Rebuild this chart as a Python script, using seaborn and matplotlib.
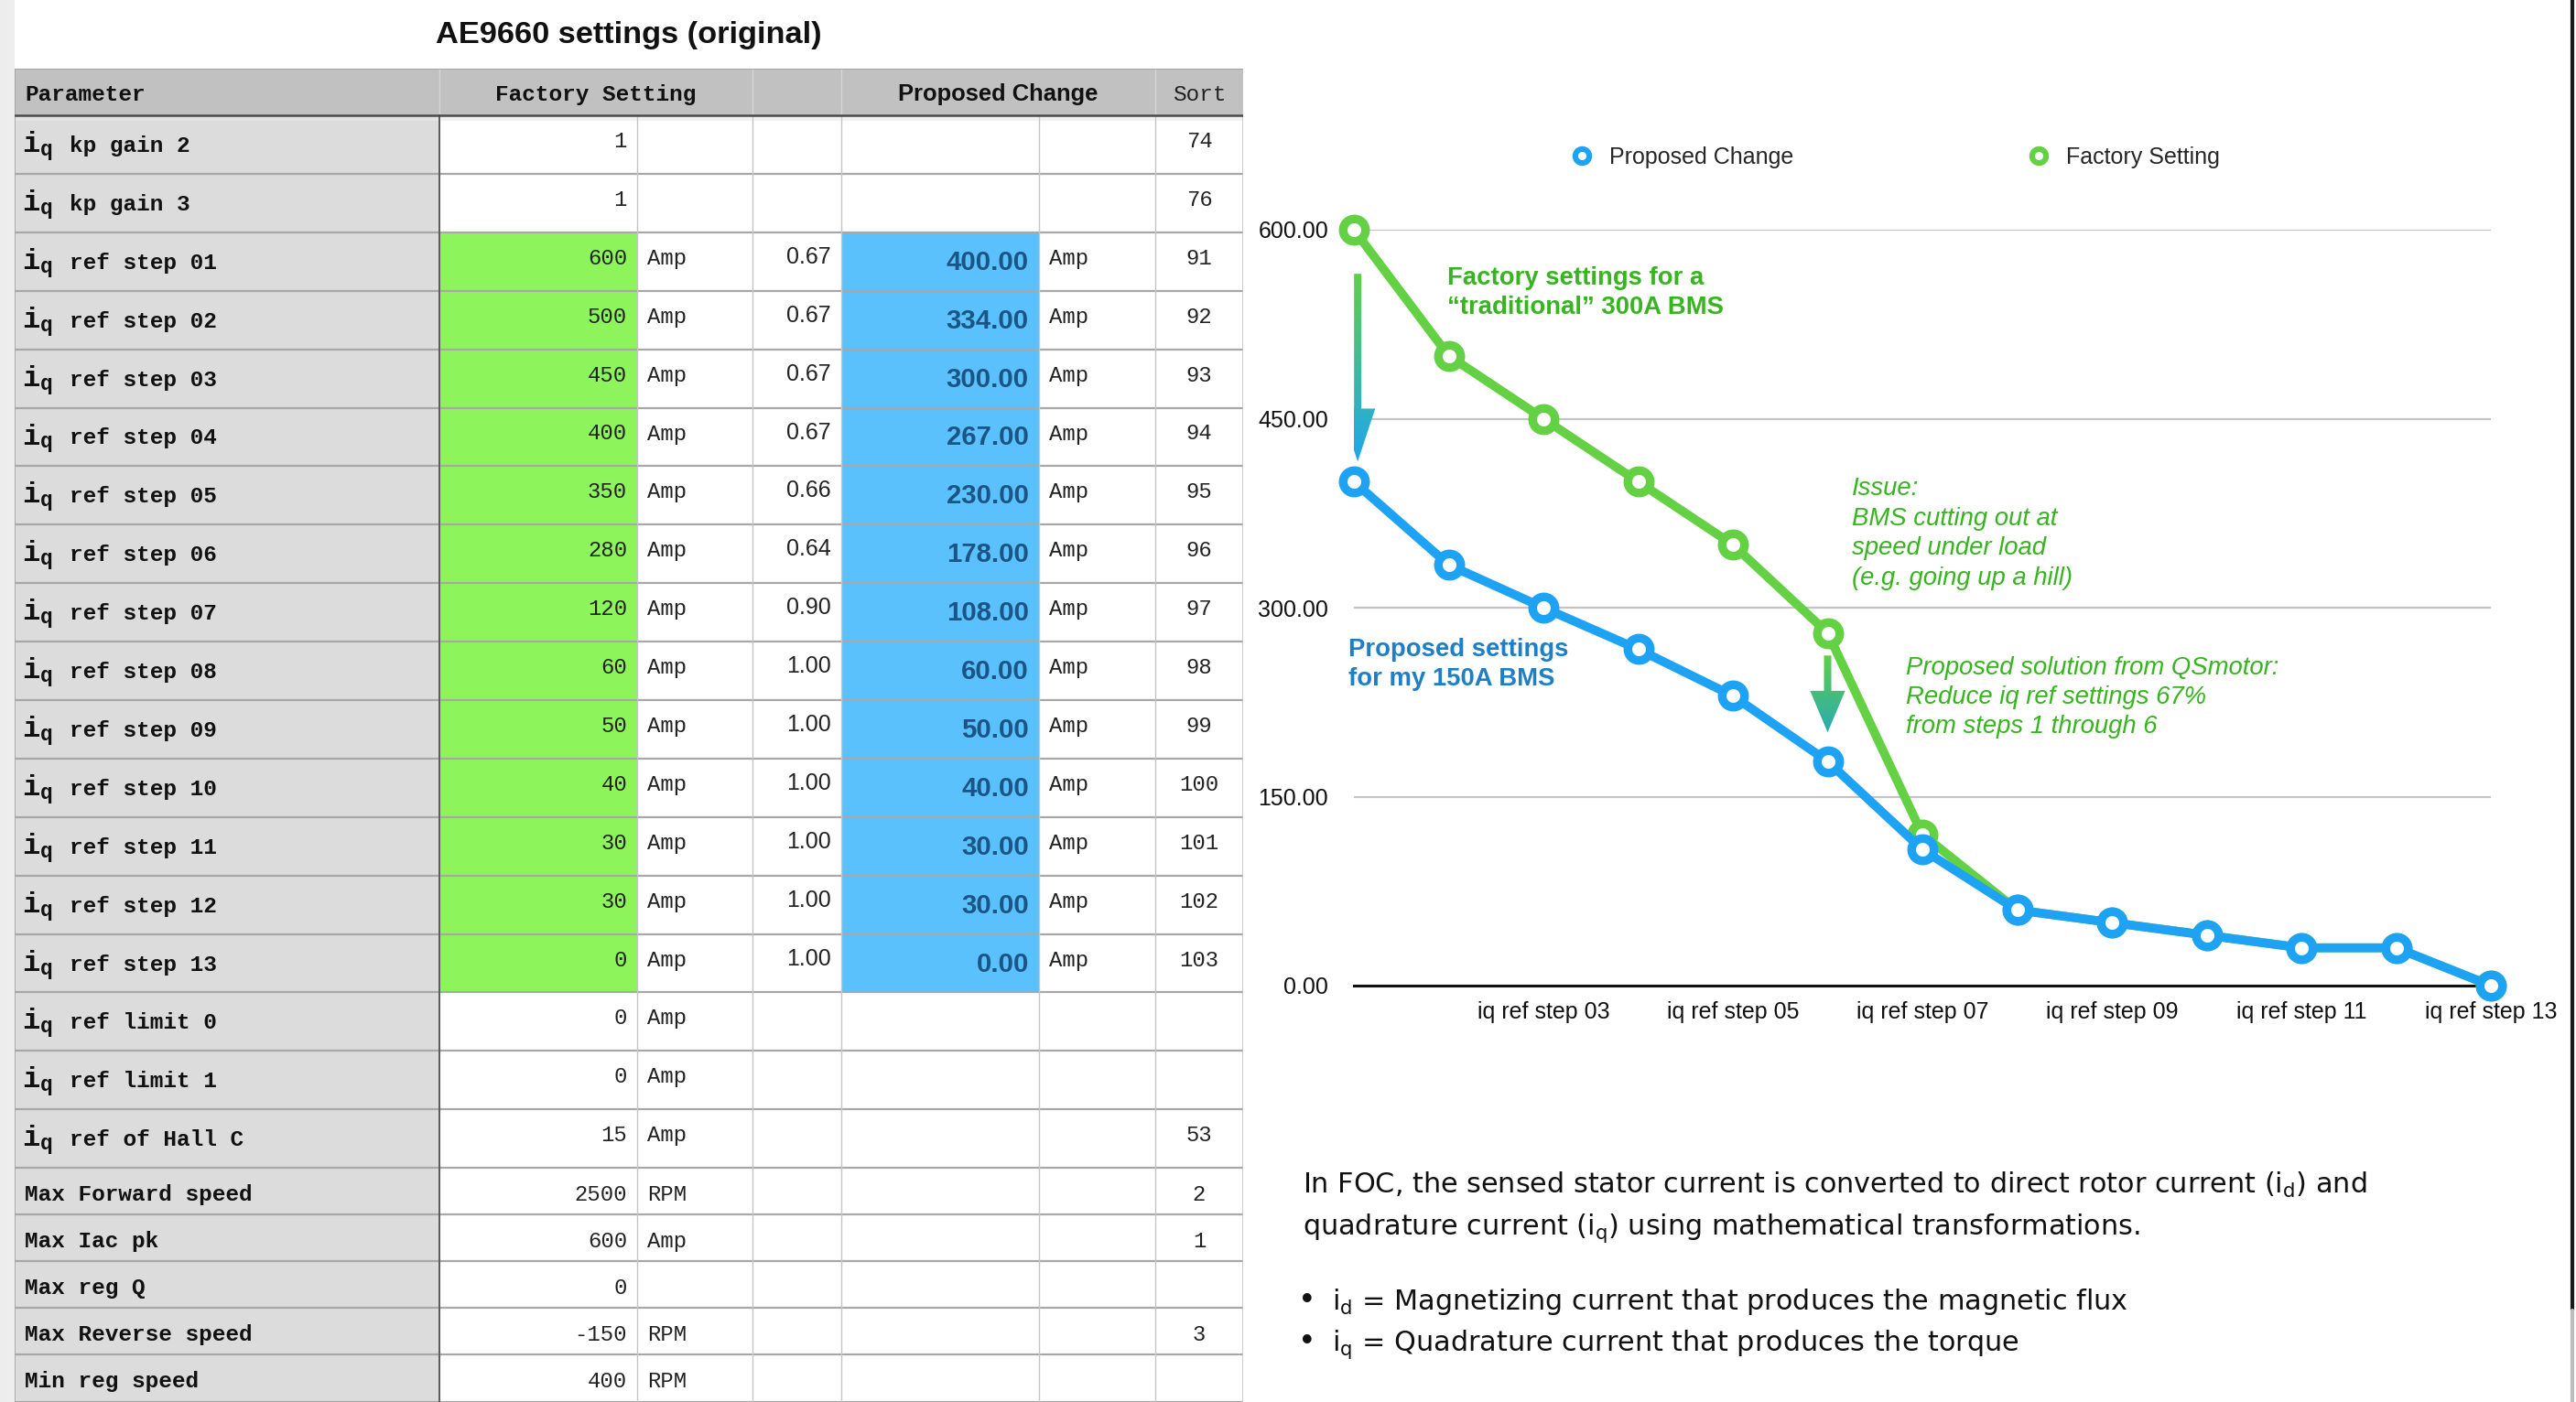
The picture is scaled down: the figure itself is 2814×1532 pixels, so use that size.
import numpy as np
import pandas as pd
import matplotlib
matplotlib.use("Agg")
import matplotlib.pyplot as plt
import matplotlib.colors as mcolors
import seaborn as sns
from matplotlib.patches import Rectangle, FancyArrow
from matplotlib.lines import Line2D
from matplotlib.ticker import StrMethodFormatter

# ------------------------------------------------------------------ data
title = "AE9660 settings (original)"

param_names = [
    "kp gain 2", "kp gain 3",
    "ref step 01", "ref step 02", "ref step 03", "ref step 04", "ref step 05",
    "ref step 06", "ref step 07", "ref step 08", "ref step 09", "ref step 10",
    "ref step 11", "ref step 12", "ref step 13",
    "ref limit 0", "ref limit 1", "ref of Hall C",
    "Max Forward speed", "Max Iac pk", "Max reg Q", "Max Reverse speed",
    "Min reg speed",
]
param_is_iq = [True] * 18 + [False] * 5
factory_values = [1, 1, 600, 500, 450, 400, 350, 280, 120, 60, 50, 40, 30, 30, 0,
                  0, 0, 15, 2500, 600, 0, -150, 400]
factory_units = ["", ""] + ["Amp"] * 13 + ["Amp", "Amp", "Amp", "RPM", "Amp", "",
                                           "RPM", "RPM"]
ratios = [None, None, 0.67, 0.67, 0.67, 0.67, 0.66, 0.64, 0.90, 1.00, 1.00, 1.00,
          1.00, 1.00, 1.00] + [None] * 8
proposed_values = [None, None, 400, 334, 300, 267, 230, 178, 108, 60, 50, 40, 30,
                   30, 0] + [None] * 8
sort_keys = [74, 76, 91, 92, 93, 94, 95, 96, 97, 98, 99, 100, 101, 102, 103,
             None, None, 53, 2, 1, None, 3, None]

header_labels = ["Parameter", "Factory Setting", "Proposed Change", "Sort"]

step_labels = ["iq ref step 01", "iq ref step 02", "iq ref step 03",
               "iq ref step 04", "iq ref step 05", "iq ref step 06",
               "iq ref step 07", "iq ref step 08", "iq ref step 09",
               "iq ref step 10", "iq ref step 11", "iq ref step 12",
               "iq ref step 13"]
factory_setting = [600, 500, 450, 400, 350, 280, 120, 60, 50, 40, 30, 30, 0]
proposed_change = [400, 334, 300, 267, 230, 178, 108, 60, 50, 40, 30, 30, 0]
series_names = ["Proposed Change", "Factory Setting"]
y_ticks = [0, 150, 300, 450, 600]

# ------------------------------------------------------------------ style
W, H, DPI = 2814, 1532, 200
sns.set_theme(style="white")
plt.rcParams["font.family"] = ["Liberation Sans", "DejaVu Sans"]

GREEN = "#63d143"
BLUE = "#1ea2f3"
GREEN_TXT = "#37b420"
BLUE_TXT = "#1f7fc6"
MONO = "Liberation Mono"

fig = plt.figure(figsize=(W / DPI, H / DPI), dpi=DPI)
fig.patch.set_facecolor("white")


def fx(px):
    return px / W


def fy(py):
    return 1 - py / H


# left grey strip and right edge line
fig.add_artist(Rectangle((0, 0), fx(14), 1, transform=fig.transFigure,
                         color="#ededed", zorder=0))
fig.add_artist(Line2D([fx(2810), fx(2810)], [fy(0), fy(1432)],
                      transform=fig.transFigure, color="#1a1a1a", lw=1.5))
fig.add_artist(Line2D([fx(2810), fx(2810)], [fy(1432), fy(1532)],
                      transform=fig.transFigure, color="#bdbdbd", lw=1.5))

# ------------------------------------------------------------------ title
fig.text(fx(687), fy(47), title, ha="center", va="baseline", fontsize=12.4,
         fontweight="bold", color="#111111")

# ------------------------------------------------------------------ table
tab = fig.add_axes([fx(16), 0, fx(1358) - fx(16), fy(75)])
TW, TH = 1342, 1457
tab.set_xlim(0, TW)
tab.set_ylim(TH, 0)
tab.axis("off")

col_edges = [0, 464, 680, 806, 903, 1119, 1246, 1342]
header_h = 51
row_heights = [63.9 if iq else 51.0 for iq in param_is_iq]
row_tops = header_h + np.concatenate([[0], np.cumsum(row_heights)[:-1]])

# backgrounds
tab.add_patch(Rectangle((0, 0), TW, header_h, color="#c0c1c0", lw=0))
tab.add_patch(Rectangle((0, header_h), col_edges[1], TH - header_h,
                        color="#dcdcdc", lw=0))
for r, top in enumerate(row_tops):
    h = row_heights[r]
    if ratios[r] is not None:
        tab.add_patch(Rectangle((col_edges[1], top), col_edges[2] - col_edges[1],
                                h, color="#8df55b", lw=0))
        tab.add_patch(Rectangle((col_edges[4], top), col_edges[5] - col_edges[4],
                                h, color="#5bc1fc", lw=0))

# grid lines
for r, top in enumerate(row_tops[1:]):
    tab.plot([0, TW], [top, top], color="#a8a8a8", lw=0.8)
tab.plot([0, TW], [TH - 0.5, TH - 0.5], color="#a8a8a8", lw=0.8)
for xe in [col_edges[2], col_edges[3], col_edges[4], col_edges[5], col_edges[6]]:
    tab.plot([xe, xe], [header_h, TH], color="#c6c6c6", lw=0.5)
for xe in [col_edges[3], col_edges[4], col_edges[6]]:
    tab.plot([xe, xe], [0, header_h], color="#d6d6d6", lw=0.5)
tab.plot([col_edges[1], col_edges[1]], [0, header_h], color="#d6d6d6", lw=0.5)
tab.plot([col_edges[1], col_edges[1]], [header_h, TH], color="#5a5a5a", lw=0.7)
tab.plot([TW, TW], [0, TH], color="#c6c6c6", lw=0.6)
tab.plot([0, 0], [0, TH], color="#a0a0a0", lw=0.6)
tab.plot([0, TW], [0, 0], color="#a0a0a0", lw=0.6)
tab.add_patch(Rectangle((0, header_h), TW, 6, color="#e9e9e9", lw=0, zorder=1.5,
                        alpha=0.6))
tab.plot([0, TW], [header_h, header_h], color="#4a4a4a", lw=0.9, zorder=3)

# header texts
hb = 35
tab.text(11, hb, header_labels[0], family=MONO, fontweight="bold", fontsize=8.8,
         va="baseline", ha="left", color="#111111")
tab.text((col_edges[1] + col_edges[3]) / 2, hb, header_labels[1], family=MONO,
         fontweight="bold", fontsize=8.8, va="baseline", ha="center",
         color="#111111")
tab.text((col_edges[4] + col_edges[6]) / 2, hb, header_labels[2],
         fontweight="bold", fontsize=9.2, va="baseline", ha="center",
         color="#111111")
tab.text((col_edges[6] + col_edges[7]) / 2, hb, header_labels[3], family=MONO,
         fontsize=8.8, va="baseline", ha="center", color="#222222")

# body texts
for r, top in enumerate(row_tops):
    tall = param_is_iq[r]
    lab_b = top + (40 if tall else 36)
    val_b = top + (35 if tall else 36)
    pro_b = top + (41 if tall else 36)
    if tall:
        tab.text(8, lab_b, "i", family=MONO, fontweight="bold", fontsize=11.5,
                 va="baseline", ha="left", color="#111111")
        tab.text(28, lab_b + 4, "q", family=MONO, fontweight="bold", fontsize=8.2,
                 va="baseline", ha="left", color="#111111")
        tab.text(60, lab_b, param_names[r], family=MONO, fontweight="bold",
                 fontsize=8.8, va="baseline", ha="left", color="#111111")
    else:
        tab.text(11, lab_b, param_names[r], family=MONO, fontweight="bold",
                 fontsize=8.8, va="baseline", ha="left", color="#111111")
    tab.text(col_edges[2] - 11, val_b, f"{factory_values[r]}", family=MONO,
             fontsize=8.6, va="baseline", ha="right", color="#222222")
    if factory_units[r]:
        tab.text(col_edges[2] + 11, val_b, factory_units[r], family=MONO,
                 fontsize=8.6, va="baseline", ha="left", color="#222222")
    if ratios[r] is not None:
        tab.text(col_edges[4] - 11, val_b - 1, f"{ratios[r]:.2f}", fontsize=9,
                 va="baseline", ha="right", color="#222222")
    if proposed_values[r] is not None:
        tab.text(col_edges[5] - 11, pro_b, f"{proposed_values[r]:.2f}",
                 fontsize=10.6, fontweight="bold", va="baseline", ha="right",
                 color="#1b5585")
        tab.text(col_edges[5] + 11, val_b, "Amp", family=MONO, fontsize=8.6,
                 va="baseline", ha="left", color="#222222")
    if sort_keys[r] is not None:
        tab.text((col_edges[6] + col_edges[7]) / 2, val_b, f"{sort_keys[r]}",
                 family=MONO, fontsize=8.6, va="baseline", ha="center",
                 color="#222222")

# ------------------------------------------------------------------ chart
ax = fig.add_axes([fx(1479), fy(1077), fx(2721) - fx(1479), fy(251) - fy(1077)])
df = pd.DataFrame({
    "pos": list(range(len(step_labels))) * 2,
    "value": factory_setting + proposed_change,
    "series": ["Factory Setting"] * len(step_labels)
              + ["Proposed Change"] * len(step_labels),
})
palette = {"Proposed Change": BLUE, "Factory Setting": GREEN}
sns.lineplot(data=df, x="pos", y="value", hue="series",
             hue_order=["Factory Setting", "Proposed Change"], palette=palette,
             marker="o", markersize=8.8, markeredgewidth=3.4,
             markerfacecolor="white", linewidth=3.5, legend=False, ax=ax,
             clip_on=False, zorder=4)
for ln in ax.lines:
    ln.set_markeredgecolor(ln.get_color())
    ln.set_solid_joinstyle("round")


def gradient_arrow(ax, x, y0, y1, shaft_w, head_w, head_l, c_top, c_bot):
    arr = FancyArrow(x, y0, 0, y1 - y0, width=shaft_w, head_width=head_w,
                     head_length=head_l, length_includes_head=True,
                     fc="none", ec="none")
    ax.add_patch(arr)
    t = np.linspace(0, 1, 256)[:, None]
    c0 = np.array(mcolors.to_rgb(c_top))
    c1 = np.array(mcolors.to_rgb(c_bot))
    grad = (c0 * (1 - t) + c1 * t)[:, None, :]
    im = ax.imshow(grad, extent=[x - head_w / 2, x + head_w / 2, y1, y0],
                   origin="upper", aspect="auto", zorder=3,
                   interpolation="bilinear")
    im.set_clip_path(arr)


gradient_arrow(ax, 0.04, 565, 416, 0.077, 0.37, 42, "#5fd048", "#1ea6f0")
gradient_arrow(ax, 5.0, 262, 201, 0.077, 0.37, 33, "#5fd048", "#2aaab2")

ax.set_xlim(0, len(step_labels) - 1)
ax.set_ylim(0, 600)
ax.set_yticks(y_ticks)
ax.yaxis.set_major_formatter(StrMethodFormatter("{x:.2f}"))
ax.set_xticks(range(2, len(step_labels), 2), labels=step_labels[2::2])
ax.tick_params(axis="both", length=0, labelsize=9, colors="#111111")
ax.tick_params(axis="y", pad=10)
ax.tick_params(axis="x", pad=6)
ax.set_xlabel("")
ax.set_ylabel("")
for s in ["top", "right", "left"]:
    ax.spines[s].set_visible(False)
ax.spines["bottom"].set_color("#111111")
ax.spines["bottom"].set_linewidth(1.1)
ax.grid(axis="y", color="#c4c4c4", lw=0.8)
ax.grid(axis="x", visible=False)
ax.set_axisbelow(True)
ax.set_facecolor("none")

handles = [Line2D([], [], ls="none", marker="o", ms=5.5, mew=2.2, mfc="white",
                  mec=palette[n]) for n in series_names]
fig.legend(handles, series_names, loc="center left",
           bbox_to_anchor=(fx(1718), fy(172)), ncol=2, frameon=False,
           handlelength=0.8, handletextpad=0.8, columnspacing=10.3,
           borderpad=0, borderaxespad=0, fontsize=9)

# annotations
ann_kw = dict(ha="left", va="baseline", fontsize=9.9)
for txt, yb in [("Factory settings for a", 311),
                ("\u201ctraditional\u201d 300A BMS", 343)]:
    fig.text(fx(1581), fy(yb), txt, color=GREEN_TXT, fontweight="bold", **ann_kw)
for txt, yb in [("Issue:", 541), ("BMS cutting out at", 574),
                ("speed under load", 606), ("(e.g. going up a hill)", 639)]:
    fig.text(fx(2023), fy(yb), txt, color=GREEN_TXT, style="italic", **ann_kw)
for txt, yb in [("Proposed settings", 717), ("for my 150A BMS", 749)]:
    fig.text(fx(1473), fy(yb), txt, color=BLUE_TXT, fontweight="bold", **ann_kw)
for txt, yb in [("Proposed solution from QSmotor:", 737),
                ("Reduce iq ref settings 67%", 769),
                ("from steps 1 through 6", 801)]:
    fig.text(fx(2082), fy(yb), txt, color=GREEN_TXT, style="italic", **ann_kw)

# bottom explanatory text
body_kw = dict(ha="left", va="baseline", fontsize=10.9, family="DejaVu Sans",
               color="#111111")
fig.text(fx(1423), fy(1304),
         r"In FOC, the sensed stator current is converted to direct rotor current (i$_\mathregular{d}$) and",
         **body_kw)
fig.text(fx(1423), fy(1349),
         r"quadrature current (i$_\mathregular{q}$) using mathematical transformations.",
         **body_kw)
for sym, rest, yb in [("d", "Magnetizing current that produces the magnetic flux", 1431),
                      ("q", "Quadrature current that produces the torque", 1476)]:
    fig.text(fx(1428), fy(yb), "\u2022", ha="center", va="baseline",
             fontsize=12, family="DejaVu Sans", color="#111111")
    fig.text(fx(1455), fy(yb), r"i$_\mathregular{%s}$ = %s" % (sym, rest),
             **body_kw)

fig.savefig("out.png", dpi=DPI, facecolor="white")
